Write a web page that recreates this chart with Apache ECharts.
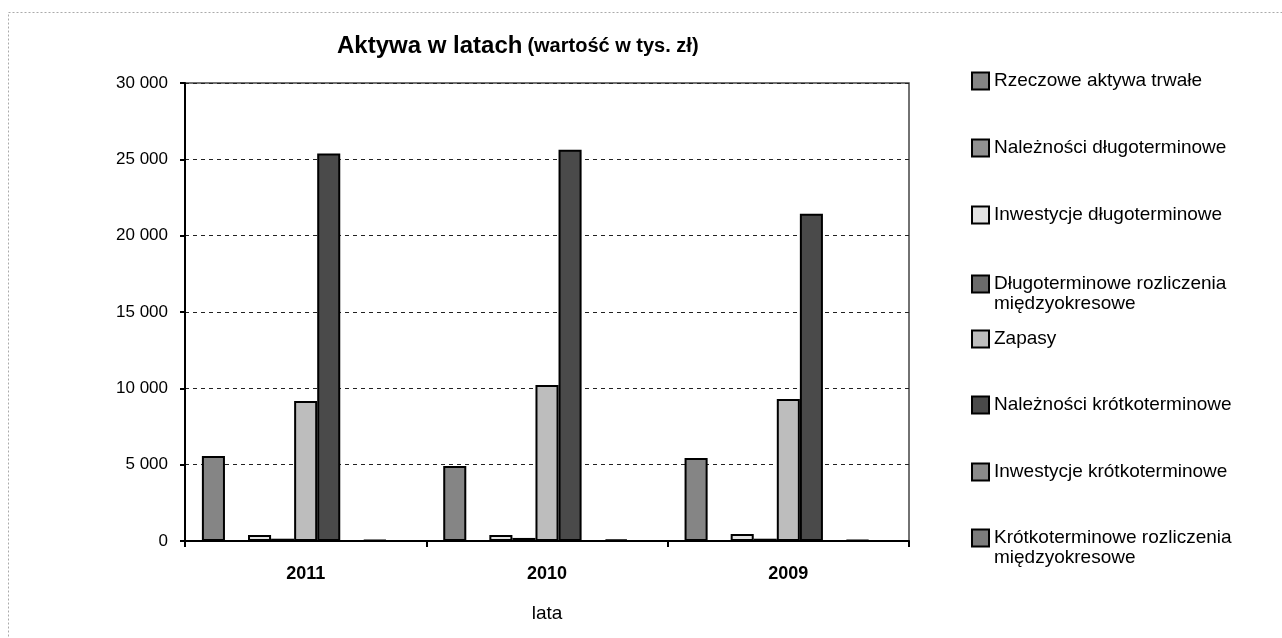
<!DOCTYPE html>
<html>
<head>
<meta charset="utf-8">
<title>Aktywa w latach</title>
<script src="https://cdn.jsdelivr.net/npm/echarts@6/dist/echarts.min.js"></script>
<style>
  html, body { margin: 0; padding: 0; background: #fff; }
  #chart { width: 1282px; height: 638px; }
</style>
</head>
<body>
<div id="chart"></div>
<script>
// lata (kategorie osi X)
var years = ['2011', '2010', '2009'];

// nazwy serii
var seriesNames = [
  'Rzeczowe aktywa trwałe',
  'Należności długoterminowe',
  'Inwestycje długoterminowe',
  'Długoterminowe rozliczenia międzyokresowe',
  'Zapasy',
  'Należności krótkoterminowe',
  'Inwestycje krótkoterminowe',
  'Krótkoterminowe rozliczenia międzyokresowe'
];

// wartości w tys. zł, kolejno 2011, 2010, 2009
var rzeczoweAktywa = [5570, 4920, 5440];
var naleznosciDlugo = [0, 0, 0];
var inwestycjeDlugo = [390, 400, 460];
var rozliczeniaDlugo = [150, 200, 150];
var zapasy = [9170, 10220, 9300];
var naleznosciKrotko = [25390, 25620, 21430];
var inwestycjeKrotko = [0, 0, 0];
var rozliczeniaKrotko = [50, 100, 50];

var yTicks = [0, 5000, 10000, 15000, 20000, 25000, 30000];

var values = [rzeczoweAktywa, naleznosciDlugo, inwestycjeDlugo, rozliczeniaDlugo,
  zapasy, naleznosciKrotko, inwestycjeKrotko, rozliczeniaKrotko];
var fills = ['#858585', '#909090', '#e2e2e2', '#6a6a6a', '#bdbdbd', '#4a4a4a', '#8a8a8a', '#7c7c7c'];

// pozycje legendy (środek pierwszej linii tekstu)
var legendCenters = [81, 148, 215, 283, 339, 405, 472, 537];
var LH = 20;
var MARK = 17;
var FONT = 'Arial, "Liberation Sans", sans-serif';

// znacznik legendy wyrównany do pierwszej linii dwuwierszowego opisu
var twoLineIcon = 'path://M0,0M0,' + (2 * LH) + 'M0,' + (LH - MARK) / 2 + 'L' + MARK + ',' + (LH - MARK) / 2 +
  'L' + MARK + ',' + (LH + MARK) / 2 + 'L0,' + (LH + MARK) / 2 + 'Z';

function fmt(v) {
  return String(v).replace(/\B(?=(\d{3})+(?!\d))/g, ' ');
}

function wrapName(name) {
  return name.replace(' międzyokresowe', '\nmiędzyokresowe');
}

var chart = echarts.init(document.getElementById('chart'));

var legends = seriesNames.map(function (name, i) {
  var twoLines = name.indexOf('międzyokresowe') >= 0;
  return {
    data: [name],
    orient: 'vertical',
    left: 971,
    top: legendCenters[i] - LH / 2,
    padding: 0,
    icon: twoLines ? twoLineIcon : 'rect',
    itemWidth: MARK,
    itemHeight: twoLines ? 2 * LH : MARK,
    itemGap: 0,
    selectedMode: false,
    formatter: wrapName,
    textStyle: {
      fontFamily: FONT,
      fontSize: 19,
      color: '#000',
      lineHeight: LH
    }
  };
});

var series = seriesNames.map(function (name, i) {
  return {
    name: name,
    type: 'bar',
    data: values[i],
    barGap: '0%',
    barCategoryGap: '14%',
    itemStyle: { color: fills[i], borderColor: '#000', borderWidth: 2 }
  };
});
// pusta seria - w oryginale zostawia miejsce po prawej stronie grupy
series.push({
  name: '',
  type: 'bar',
  data: [null, null, null],
  barGap: '0%',
  barCategoryGap: '14%'
});

var option = {
  animation: false,
  backgroundColor: '#fff',
  title: {
    text: '{a|Aktywa w latach} {b|(wartość w tys. zł)}',
    left: 332,
    top: 29,
    textStyle: {
      rich: {
        a: { fontFamily: FONT, fontSize: 24, fontWeight: 'bold', color: '#000' },
        b: { fontFamily: FONT, fontSize: 20, fontWeight: 'bold', color: '#000' }
      }
    }
  },
  graphic: [{
    type: 'rect',
    shape: { x: 8.5, y: 12.5, width: 1300, height: 700 },
    style: { fill: 'none', stroke: '#aaa', lineWidth: 1, lineDash: [2, 2] },
    silent: true
  }],
  legend: legends,
  grid: {
    left: 185,
    top: 83,
    width: 724,
    height: 458,
    show: true,
    borderColor: '#444',
    borderWidth: 1.5,
    backgroundColor: '#fff'
  },
  xAxis: {
    type: 'category',
    data: years,
    name: 'lata',
    nameLocation: 'middle',
    nameGap: 63,
    nameTextStyle: { fontFamily: FONT, fontSize: 19, color: '#000' },
    axisLine: { lineStyle: { color: '#000', width: 2 } },
    axisTick: { show: true, length: 6, lineStyle: { color: '#000', width: 2 } },
    axisLabel: {
      margin: 24,
      fontFamily: FONT,
      fontSize: 18,
      fontWeight: 'bold',
      color: '#000'
    }
  },
  yAxis: {
    type: 'value',
    min: 0,
    max: 30000,
    interval: 5000,
    axisLine: { show: true, lineStyle: { color: '#000', width: 2 } },
    axisTick: { show: true, length: 5, lineStyle: { color: '#000', width: 2 } },
    axisLabel: {
      margin: 17,
      fontFamily: FONT,
      fontSize: 17,
      color: '#000',
      formatter: function (v) { return yTicks.indexOf(v) >= 0 ? fmt(v) : ''; }
    },
    splitLine: { show: true, lineStyle: { color: '#222', type: [4, 4], width: 1 } }
  },
  series: series
};

chart.setOption(option);
</script>
</body>
</html>
